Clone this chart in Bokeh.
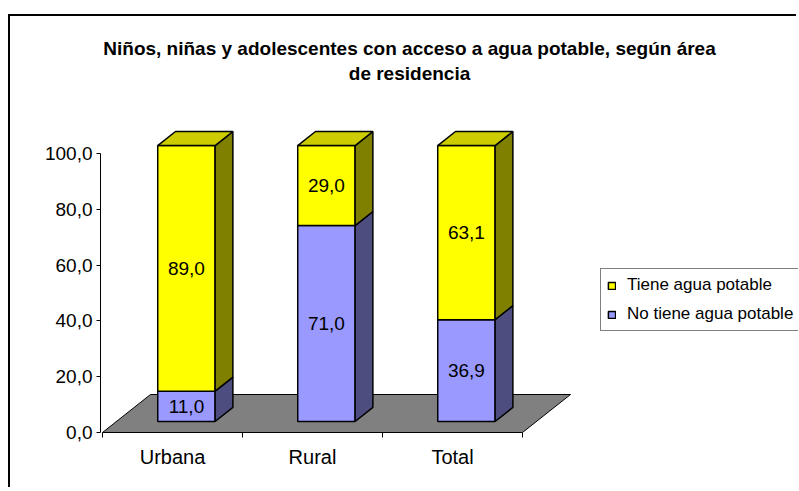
from bokeh.plotting import figure
from bokeh.models import Range1d, FixedTicker, Legend, LegendItem, ColumnDataSource
from bokeh.core.properties import value
from bokeh.embed import file_html
from bokeh.resources import INLINE

# ---------------- data ----------------
title_lines = ["Niños, niñas y adolescentes con acceso a agua potable, según área",
               "de residencia"]
categories = ["Urbana", "Rural", "Total"]
no_tiene = [11.0, 71.0, 36.9]
tiene = [89.0, 29.0, 63.1]
series_names = ["Tiene agua potable", "No tiene agua potable"]
y_ticks = [0, 20, 40, 60, 80, 100]
y_tick_labels = ["0,0", "20,0", "40,0", "60,0", "80,0", "100,0"]

# ---------------- layout / style ----------------
FONT = "Liberation Sans"
W, H = 788, 473
LEFT, BOTTOM = 90, 57
PX_X, PX_Y = 140.0, 2.79          # pixels per category / per value unit
frame_w, frame_h = W - LEFT, H - BOTTOM
x_start = -2.0 / PX_X
x_end = x_start + frame_w / PX_X
y_end = frame_h / PX_Y

DX, DY = 48.0 / PX_X, 38.0 / PX_Y  # full floor depth in data units
Z0, Z1 = 0.29, 0.66                # bar depth span
BAR_W = 0.41
VS = 0.989                         # slight perspective shrink of bars

YELLOW, YELLOW_SIDE, YELLOW_TOP = "#FFFF00", "#808000", "#CCCC00"
PURPLE, PURPLE_SIDE = "#9999FF", "#4D4D80"
FLOOR = "#808080"

p = figure(width=W, height=H, output_backend="svg", toolbar_location=None,
           x_range=Range1d(x_start, x_end), y_range=Range1d(0, y_end),
           min_border_left=LEFT, min_border_bottom=BOTTOM,
           min_border_top=0, min_border_right=0,
           margin=(14, 0, 0, 8),
           styles={"border-left": "2px solid black", "border-top": "2px solid black"})
p.outline_line_color = None
p.xgrid.visible = False
p.ygrid.visible = False
p.background_fill_color = "white"
p.border_fill_color = "white"

n = len(categories)
centers = [i + 0.5 for i in range(n)]

# floor
p.patch([0, n, n + DX, DX], [0, 0, DY, DY], fill_color=FLOOR,
        line_color="black", line_width=1)

def segment(bots, tops):
    l0 = [c - BAR_W / 2 + Z0 * DX for c in centers]
    r0 = [c + BAR_W / 2 + Z0 * DX for c in centers]
    r1 = [c + BAR_W / 2 + Z1 * DX for c in centers]
    l1 = [c - BAR_W / 2 + Z1 * DX for c in centers]
    b0 = [b * VS + Z0 * DY for b in bots]
    t0 = [t * VS + Z0 * DY for t in tops]
    b1 = [b * VS + Z1 * DY for b in bots]
    t1 = [t * VS + Z1 * DY for t in tops]
    front = dict(left=l0, right=r0, bottom=b0, top=t0)
    side = dict(xs=[[a, b, b, a] for a, b in zip(r0, r1)],
                ys=[[q, w, e, r] for q, w, e, r in zip(b0, b1, t1, t0)])
    topf = dict(xs=[[a, b, c, d] for a, b, c, d in zip(l0, r0, r1, l1)],
                ys=[[a, a, b, b] for a, b in zip(t0, t1)])
    return front, side, topf

bot_p = [0.0] * n
top_p = list(no_tiene)
bot_y = list(no_tiene)
top_y = [a + b for a, b in zip(no_tiene, tiene)]

fp, sp, tp = segment(bot_p, top_p)
fy, sy, ty = segment(bot_y, top_y)

LW = 1.5
r_purple = p.quad(source=ColumnDataSource(fp), left="left", right="right",
                  bottom="bottom", top="top", fill_color=PURPLE,
                  line_color="black", line_width=LW)
p.patches(source=ColumnDataSource(sp), xs="xs", ys="ys", fill_color=PURPLE_SIDE,
          line_color="black", line_width=LW)
r_yellow = p.quad(source=ColumnDataSource(fy), left="left", right="right",
                  bottom="bottom", top="top", fill_color=YELLOW,
                  line_color="black", line_width=LW)
p.patches(source=ColumnDataSource(sy), xs="xs", ys="ys", fill_color=YELLOW_SIDE,
          line_color="black", line_width=LW)
p.patches(source=ColumnDataSource(ty), xs="xs", ys="ys", fill_color=YELLOW_TOP,
          line_color="black", line_width=LW)

# data labels
def fmt(v):
    return f"{v:.1f}".replace(".", ",")

lab_x = [c + Z0 * DX for c in centers] * 2
lab_y = [((b + t) / 2) * VS + Z0 * DY for b, t in zip(bot_p, top_p)] + \
        [((b + t) / 2) * VS + Z0 * DY for b, t in zip(bot_y, top_y)]
lab_t = [fmt(v) for v in no_tiene] + [fmt(v) for v in tiene]
p.text(x=lab_x, y=lab_y, text=lab_t, text_align="center", text_baseline="middle",
       text_font=value(FONT), text_font_size="19px", text_color="black")

# title
title_x = (409 - 102) / PX_X
title_y = [(432 - 48) / PX_Y, (432 - 73) / PX_Y]
p.text(x=[title_x, title_x], y=title_y, text=title_lines, text_align="center",
       text_baseline="alphabetic", text_font=value(FONT), text_font_style="bold",
       text_font_size="19px", text_color="black")

# y axis
ya = p.yaxis[0]
ya.ticker = FixedTicker(ticks=y_ticks)
ya.major_label_overrides = dict(zip(y_ticks, y_tick_labels))
ya.bounds = (0, 100)
ya.major_tick_out = 4
ya.major_tick_in = 0
ya.minor_tick_out = 0
ya.minor_tick_in = 0
ya.major_label_standoff = 4
ya.axis_line_color = "black"
ya.major_tick_line_color = "black"
ya.major_label_text_font = FONT
ya.major_label_text_font_size = "19px"
ya.major_label_text_color = "black"

# x axis
xa = p.xaxis[0]
xa.ticker = FixedTicker(ticks=centers, minor_ticks=list(range(n + 1)))
xa.major_label_overrides = dict(zip(centers, categories))
xa.bounds = (0, n)
xa.major_tick_out = 0
xa.major_tick_in = 0
xa.major_tick_line_color = None
xa.minor_tick_out = 5
xa.minor_tick_in = 0
xa.minor_tick_line_color = "black"
xa.axis_line_color = "black"
xa.major_label_standoff = 8
xa.major_label_text_font = FONT
xa.major_label_text_font_size = "20px"
xa.major_label_text_color = "black"

# legend
legend = Legend(items=[LegendItem(label=series_names[0], renderers=[r_yellow]),
                       LegendItem(label=series_names[1], renderers=[r_purple])],
                location=(500, 101), padding=6, spacing=9, label_standoff=11,
                glyph_width=9, glyph_height=9, label_height=20,
                label_text_font=FONT, label_text_font_size="17px",
                label_text_color="black",
                border_line_color="black", border_line_width=1,
                background_fill_color="white", background_fill_alpha=1.0)
p.add_layout(legend)

open("out.html", "w").write(file_html(p, INLINE))
